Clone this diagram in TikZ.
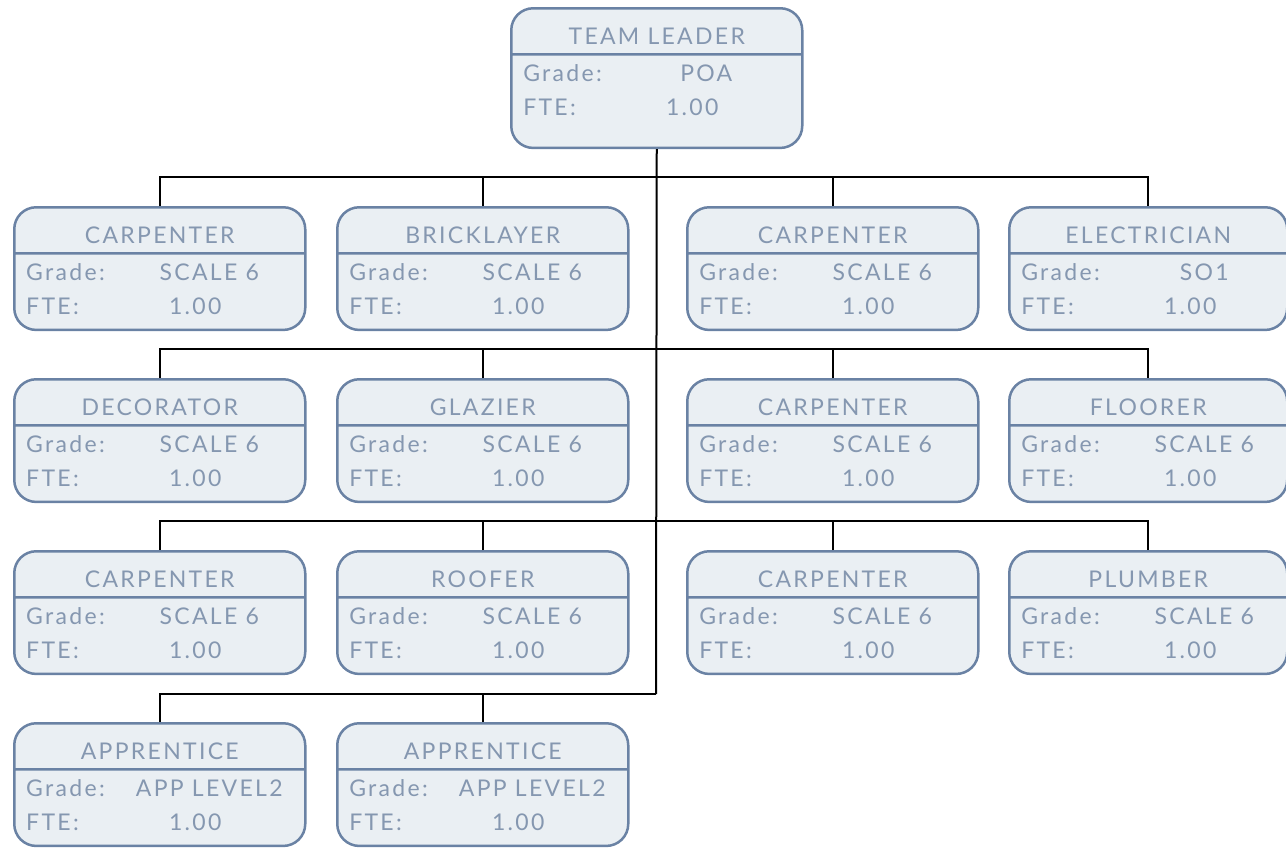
\documentclass[tikz,border=0pt]{standalone}
\usepackage{fontspec}
\setmainfont{Lato}[LetterSpace=10]
\usepackage{xcolor}
\usetikzlibrary{shapes.multipart}

\definecolor{cardfill}{HTML}{EAEFF3}
\definecolor{cardline}{HTML}{6A82A4}
\definecolor{cardtext}{HTML}{8597B0}

% title row and the two data rows of a card
\newcommand{\cardhead}[2][291pt]{\rule[-9pt]{0pt}{43.5pt}\makebox[#1]{#2}}
\newcommand{\cardbody}[4][291pt]{\parbox[t]{#1}{\offinterlineskip
  \rule{0pt}{26pt}\hspace*{12pt}\makebox[0pt][l]{Grade:}\hspace*{183pt}\makebox[0pt]{#2}\hfill\par
  \rule[-#4]{0pt}{\dimexpr34pt+#4\relax}\hspace*{12pt}\makebox[0pt][l]{FTE:}\hspace*{169pt}\makebox[0pt]{#3}\hfill}}

\begin{document}
\begin{tikzpicture}[x=1pt,y=-1pt,
  card/.style={rectangle split,rectangle split parts=2,draw=cardline,fill=cardfill,
    line width=2.5pt,rounded corners=22pt,inner sep=0pt,text=cardtext,
    font=\fontsize{23}{27}\selectfont,anchor=north west},
  link/.style={draw=black,line width=2pt}]
  \useasboundingbox (0,0) rectangle (1286,847);
  \node[card] (lead) at (510,7) {\cardhead{TEAM LEADER}\nodepart{two}\cardbody{POA}{1.00}{31pt}};
  \node[card] (carp1) at (13,206) {\cardhead{CARPENTER}\nodepart{two}\cardbody{SCALE 6}{1.00}{14pt}};
  \node[card] (brick) at (336,206) {\cardhead{BRICKLAYER}\nodepart{two}\cardbody{SCALE 6}{1.00}{14pt}};
  \node[card] (carp2) at (686,206) {\cardhead{CARPENTER}\nodepart{two}\cardbody{SCALE 6}{1.00}{14pt}};
  \node[card] (elec) at (1008,206) {\cardhead[278pt]{ELECTRICIAN}\nodepart{two}\cardbody[278pt]{SO1}{1.00}{14pt}};
  \node[card] (deco) at (13,378) {\cardhead{DECORATOR}\nodepart{two}\cardbody{SCALE 6}{1.00}{14pt}};
  \node[card] (glaz) at (336,378) {\cardhead{GLAZIER}\nodepart{two}\cardbody{SCALE 6}{1.00}{14pt}};
  \node[card] (carp3) at (686,378) {\cardhead{CARPENTER}\nodepart{two}\cardbody{SCALE 6}{1.00}{14pt}};
  \node[card] (floor) at (1008,378) {\cardhead[278pt]{FLOORER}\nodepart{two}\cardbody[278pt]{SCALE 6}{1.00}{14pt}};
  \node[card] (carp4) at (13,550) {\cardhead{CARPENTER}\nodepart{two}\cardbody{SCALE 6}{1.00}{14pt}};
  \node[card] (roof) at (336,550) {\cardhead{ROOFER}\nodepart{two}\cardbody{SCALE 6}{1.00}{14pt}};
  \node[card] (carp5) at (686,550) {\cardhead{CARPENTER}\nodepart{two}\cardbody{SCALE 6}{1.00}{14pt}};
  \node[card] (plumb) at (1008,550) {\cardhead[278pt]{PLUMBER}\nodepart{two}\cardbody[278pt]{SCALE 6}{1.00}{14pt}};
  \node[card] (appr1) at (13,722) {\cardhead{APPRENTICE}\nodepart{two}\cardbody{APP LEVEL2}{1.00}{14pt}};
  \node[card] (appr2) at (336,722) {\cardhead{APPRENTICE}\nodepart{two}\cardbody{APP LEVEL2}{1.00}{14pt}};
  % trunk and the four bus lines
  \coordinate (bus1) at (656,177);
  \coordinate (bus2) at (656,349);
  \coordinate (bus3) at (656,521);
  \coordinate (bus4) at (656,694);
  \draw[link] (lead.south) -- (bus4);
  \draw[link] (carp1.north) |- (bus1) -| (elec.north);
  \draw[link] (brick.north) -- (brick.north |- bus1);
  \draw[link] (carp2.north) -- (carp2.north |- bus1);
  \draw[link] (deco.north) |- (bus2) -| (floor.north);
  \draw[link] (glaz.north) -- (glaz.north |- bus2);
  \draw[link] (carp3.north) -- (carp3.north |- bus2);
  \draw[link] (carp4.north) |- (bus3) -| (plumb.north);
  \draw[link] (roof.north) -- (roof.north |- bus3);
  \draw[link] (carp5.north) -- (carp5.north |- bus3);
  \draw[link] (appr1.north) |- (bus4);
  \draw[link] (appr2.north) -- (appr2.north |- bus4);
\end{tikzpicture}
\end{document}
